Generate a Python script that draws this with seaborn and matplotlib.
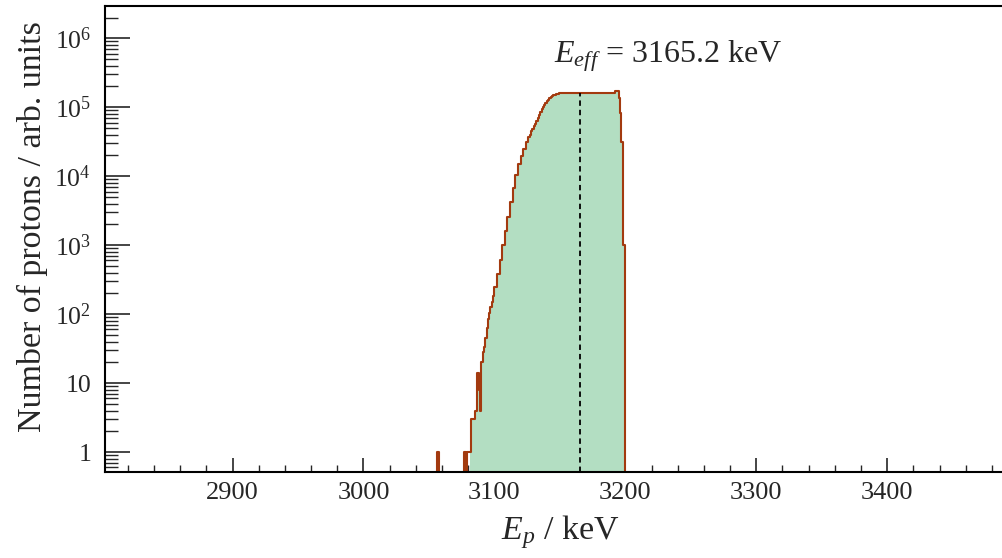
import numpy as np
import pandas as pd
import matplotlib
matplotlib.use("Agg")
import matplotlib.pyplot as plt
from matplotlib.ticker import MultipleLocator, LogLocator, NullFormatter, FixedLocator, FixedFormatter
import seaborn as sns

# histogram bin edges (keV) and counts
edges = [2800, 3056, 3058, 3077, 3078, 3079, 3081, 3082, 3085, 3087, 3088, 3089,
         3090, 3091, 3092, 3093, 3094, 3095, 3096, 3097, 3098, 3099, 3100,
         3102, 3104, 3106, 3108, 3110, 3112, 3114, 3116, 3118, 3120, 3122, 3124, 3126,
         3127, 3128, 3129, 3130, 3131, 3132, 3133, 3134, 3135, 3136, 3137, 3138,
         3139, 3140, 3141, 3142, 3143, 3144, 3145, 3146, 3147, 3148, 3149, 3150,
         3156, 3162, 3168, 3174, 3180, 3186, 3192,
         3195, 3196, 3197, 3198, 3200, 3500]
counts = [0, 1, 0, 1, 0, 1, 1, 3, 4, 14, 8, 4,
          20, 28, 33, 45, 62, 85, 105, 125, 150, 185,
          250, 380, 600, 1000, 1600, 2600, 4200, 6800, 10500, 15000, 19500, 24500, 31000,
          37000, 40000, 45000, 49000, 53000, 58000, 64000, 70000, 78000, 86000, 94000, 102000,
          109000, 116000, 123000, 129000, 135000, 140000, 145000, 149000, 153000, 156000,
          158000, 160000,
          162000, 163000, 162000, 163000, 162000, 163000, 163000,
          172000, 137000, 83000, 31000, 1000, 0]
fill_from = 3081      # filled part of the spectrum starts here
e_eff = 3165.2        # effective energy (keV)

x_ticks = [2900, 3000, 3100, 3200, 3300, 3400]
y_ticks = [1, 10, 1e2, 1e3, 1e4, 1e5, 1e6]
y_labels = ["1", "10", "$10^{2}$", "$10^{3}$", "$10^{4}$", "$10^{5}$", "$10^{6}$"]

line_col = "#a33a0f"
fill_col = "#b3dec2"

sns.set_style("ticks")
plt.rcParams["font.family"] = ["Liberation Serif", "DejaVu Serif"]
plt.rcParams["mathtext.fontset"] = "custom"
plt.rcParams["mathtext.rm"] = "Liberation Serif"
plt.rcParams["mathtext.it"] = "Liberation Serif:italic"

df = pd.DataFrame({"energy": [0.5 * (a + b) for a, b in zip(edges[:-1], edges[1:])],
                   "count": counts})
df_fill = df[df["energy"] >= fill_from]
fill_edges = [e for e in edges if e >= fill_from]

fig = plt.figure(figsize=(10.03, 5.58), dpi=100)
ax = fig.add_axes([0.1047, 0.154, 0.8973, 0.8358])

# filled part
sns.histplot(data=df_fill, x="energy", weights="count", bins=fill_edges, element="step",
             fill=True, color=fill_col, alpha=1, linewidth=0, ax=ax)
# outline of the whole spectrum
sns.histplot(data=df, x="energy", weights="count", bins=edges, element="step", fill=False,
             color=line_col, linewidth=1.5, ax=ax)

ax.set_yscale("log")
ax.set_xlim(2802.6, 3490)
ax.set_ylim(0.513, 2.97e6)

# dashed line at the effective energy
h_eff = df["count"].iloc[int(np.searchsorted(edges, e_eff)) - 1]
ax.plot([e_eff, e_eff], [0.513, h_eff], color="black", lw=1.3, ls=(0, (3, 2.2)))

ax.text(0.626, 0.879, "$E_{eff}$ = %.1f keV" % e_eff, transform=ax.transAxes,
        ha="center", va="baseline", fontsize=23)

ax.xaxis.set_major_locator(FixedLocator(x_ticks))
ax.xaxis.set_minor_locator(MultipleLocator(20))
ax.yaxis.set_major_locator(FixedLocator(y_ticks))
ax.yaxis.set_major_formatter(FixedFormatter(y_labels))
ax.yaxis.set_minor_locator(LogLocator(base=10, subs=np.arange(2, 10)))
ax.yaxis.set_minor_formatter(NullFormatter())

ax.tick_params(axis="x", which="major", direction="in", length=10, width=1.2,
               labelsize=19, pad=7, top=False)
ax.tick_params(axis="x", which="minor", direction="in", length=5, width=1.0, top=False)
ax.tick_params(axis="y", which="major", direction="in", length=18, width=1.2,
               labelsize=18.5, pad=10, right=False)
ax.tick_params(axis="y", which="minor", direction="in", length=9, width=1.0, right=False)

for s in ax.spines.values():
    s.set_linewidth(1.5)
    s.set_color("black")

ax.set_xlabel("$E_{p}$ / keV", fontsize=24.5)
ax.set_ylabel("Number of protons / arb. units", fontsize=24.5)
ax.xaxis.set_label_coords(0.506, -0.088)
ax.yaxis.set_label_coords(-0.063, 0.527)

fig.savefig("out.png", dpi=100)
